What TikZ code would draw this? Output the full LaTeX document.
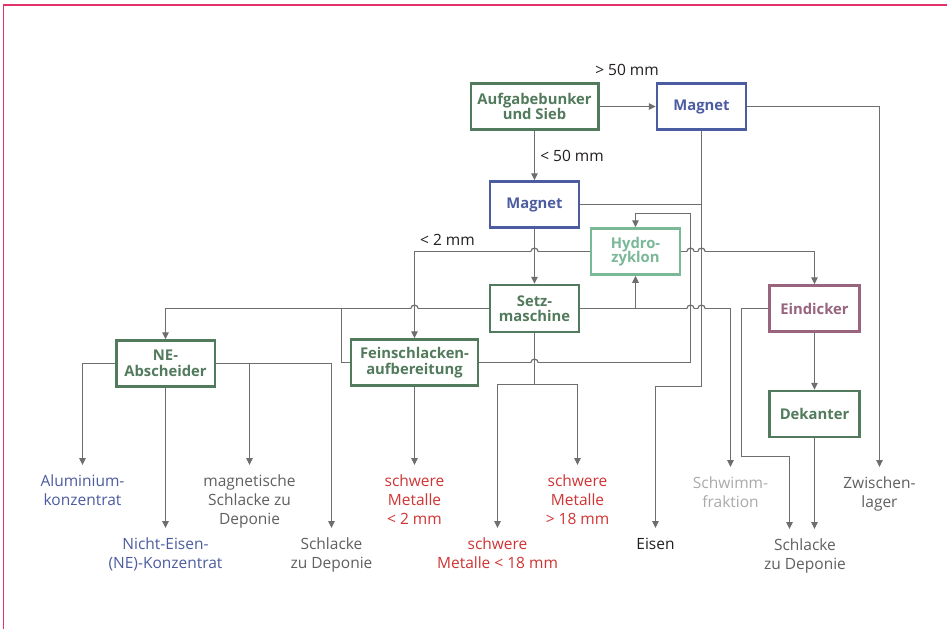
\documentclass[tikz,border=0pt]{standalone}
\usepackage{fontspec}
\setmainfont{Open Sans}
\usetikzlibrary{arrows.meta}
\definecolor{frm}{RGB}{226,50,106}
\definecolor{dgreen}{RGB}{82,122,92}
\definecolor{mblue}{RGB}{76,92,160}
\definecolor{lgreen}{RGB}{122,184,152}
\definecolor{mauve}{RGB}{152,100,126}
\definecolor{mred}{RGB}{208,52,52}
\definecolor{lnk}{RGB}{110,110,110}
\definecolor{gtext}{RGB}{96,96,96}
\definecolor{ltext}{RGB}{170,170,170}
\definecolor{dtext}{RGB}{35,31,32}
\tikzset{
 box/.style={draw=#1, text=#1, line width=2.5pt, fill=white, minimum width=89pt, minimum height=46pt, inner sep=0pt, align=center, font=\fontsize{14.8}{15.5}\selectfont\bfseries},
 lbl/.style={text=#1, anchor=north, inner xsep=0pt, inner ysep=10pt, align=center, font=\fontsize{15.5}{19}\selectfont},
 lnote/.style={text=dtext, inner sep=0pt, font=\fontsize{15.5}{19}\selectfont},
 conn/.style={draw=lnk, line width=1.2pt},
 arr/.style={conn, -{Triangle[length=7pt,width=6.5pt]}},
}
\newcommand\hopx[2]{%
 \fill[white] (#1-3.6,#2-1.2) rectangle (#1+3.6,#2+1.2);
 \draw[lnk, line width=1.2pt] (#1-3.6,#2) .. controls (#1-3.6,#2-4.5) and (#1+3.6,#2-4.5) .. (#1+3.6,#2);
 \draw[lnk, line width=1.2pt] (#1,#2-3) -- (#1,#2+3);
}
\begin{document}
\begin{tikzpicture}[x=1pt,y=-1pt]
\useasboundingbox (0,0) rectangle (947,629);
\fill[white] (0,0) rectangle (947,629);
\draw[frm, line width=2.5pt] (3,5) -- (947,5);
\draw[frm, line width=1pt] (3,5) -- (3,629);

% boxes
\node[box=dgreen, minimum width=127.5pt] (auf) at (534.5,106.5) {Aufgabebunker\\und Sieb};
\node[box=mblue] (mag1) at (701.5,106.5) {Magnet};
\node[box=mblue] (mag2) at (534.5,204.5) {Magnet};
\node[box=lgreen] (hyd) at (635.5,251.5) {Hydro-\\[-2pt]zyklon};
\node[box=dgreen, minimum height=47pt] (setz) at (534.5,308.5) {Setz-\\maschine};
\node[box=dgreen, minimum width=98.5pt] (ne) at (165.5,363.5) {NE-\\Abscheider};
\node[box=dgreen, minimum width=127pt] (fein) at (414.5,362.5) {Feinschlacken-\\aufbereitung};
\node[box=mauve, minimum width=90pt] (eind) at (814.5,308.5) {Eindicker};
\node[box=dgreen, minimum width=90pt] (dek) at (814.5,414) {Dekanter};

% output labels
\node[lbl=mblue] (alu) at (82.5,465) {Aluminium-\\konzentrat};
\node[lbl=mblue] (nek) at (165.5,528) {Nicht-Eisen-\\(NE)-Konzentrat};
\node[lbl=gtext] (mgs) at (249.5,465) {magnetische\\Schlacke zu\\Deponie};
\node[lbl=gtext] (sl1) at (331.5,528) {Schlacke\\zu Deponie};
\node[lbl=mred] (sm2) at (414.5,465) {schwere\\Metalle\\< 2 mm};
\node[lbl=mred] (smk) at (497.5,528) {schwere\\Metalle < 18 mm};
\node[lbl=mred] (smg) at (577.5,465) {schwere\\Metalle\\> 18 mm};
\node[lbl=dtext] (eis) at (655.5,528) {Eisen};
\node[lbl=ltext] (swf) at (730.5,467) {Schwimm-\\fraktion};
\node[lbl=gtext] (sl2) at (805,529) {Schlacke\\zu Deponie};
\node[lbl=gtext] (zw) at (879.5,467) {Zwischen-\\lager};

% notes
\node[lnote] (n50g) at (627,70) {> 50 mm};
\node[lnote] (n50k) at (572,156) {< 50 mm};
\node[lnote] (n2) at (447.5,240) {< 2 mm};

% connectors
\draw[arr] (auf) -- (mag1);
\draw[arr] (auf.south) -- (mag2.north);
\draw[arr] (mag2.south) -- (setz.north);
\draw[arr] (mag1.east) -| (zw.north);
\coordinate (ek) at (701.5,386.5);
\draw[arr] (mag1.south) -- (ek) -| (eis.north);
\draw[conn] (mag2.east) -- (mag2.east -| ek);
\draw[arr] (hyd.west) -| (fein.north);
\draw[arr] (hyd.east) -| (eind.north);
\draw[arr] (setz.west) -| (ne.north);
\coordinate (fbx) at (341.5,0);
\draw[conn] (setz.west -| fbx) |- (fein.west);
\draw[arr] (setz.east) -| (swf.north);
\draw[arr] (setz.east -| hyd.south) -- (hyd.south);
\coordinate (rt) at (690.5,213.5);
\draw[arr] (fein.east) -| (rt) -| (hyd.north);
\coordinate (sp) at (534.5,384.5);
\draw[conn] (setz.south) -- (sp);
\draw[arr] (sp) -| (smk.north);
\draw[arr] (sp) -| (smg.north);
\draw[arr] (fein.south) -- (fein.south |- sm2.north);
\draw[arr] (ne.west) -| (alu.north);
\draw[arr] (ne.south) -- (ne.south |- nek.north);
\draw[arr] (ne.east) -| (mgs.north);
\draw[arr] (ne.east) -| (sl1.north);
\draw[arr] (eind) -- (dek);
\draw[arr] (dek.south) -- (dek.south |- sl2.north);
\coordinate (e1) at (741.5,456.5);
\coordinate (e2) at (789.5,456.5);
\draw[arr] (eind.west) -| (e1) -- (e2) -- (e2 |- sl2.north);

% line hops
\hopx{534.5}{251.5}
\hopx{690.5}{251.5}
\hopx{701.5}{251.5}
\hopx{414.5}{308.5}
\hopx{690.5}{308.5}
\hopx{701.5}{308.5}
\hopx{534.5}{362.5}
\end{tikzpicture}
\end{document}
